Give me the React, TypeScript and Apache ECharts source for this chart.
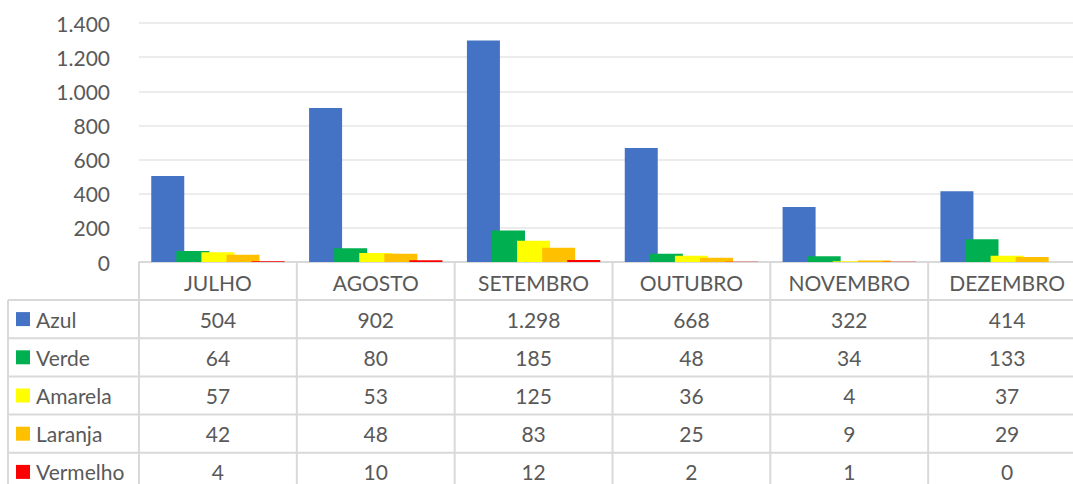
import React, { useEffect, useRef } from "react";
import * as echarts from "echarts";

const months = ["JULHO", "AGOSTO", "SETEMBRO", "OUTUBRO", "NOVEMBRO", "DEZEMBRO"];
const seriesNames = ["Azul", "Verde", "Amarela", "Laranja", "Vermelho"];
const seriesColors = ["#4472C4", "#00B050", "#FFFF00", "#FFC000", "#FF0000"];
const azul = [504, 902, 1298, 668, 322, 414];
const verde = [64, 80, 185, 48, 34, 133];
const amarela = [57, 53, 125, 36, 4, 37];
const laranja = [42, 48, 83, 25, 9, 29];
const vermelho = [4, 10, 12, 2, 1, 0];
const yMax = 1400;
const yInterval = 200;

const allValues = [azul, verde, amarela, laranja, vermelho];

const fmt = (n: number) => String(n).replace(/\B(?=(\d{3})+(?!\d))/g, ".");

const W = 1073;
const H = 484;
const gridLeft = 139;
const gridWidth = 947;
const innerW = gridLeft + gridWidth;
const gridTop = 23;
const axisY = 262;
const headerBottom = 300;
const rowH = 38.2;
const tableLeft = 8;
const FONT = "Lato, 'Open Sans', sans-serif";
const FS = 21;
const TXT = "#595959";
const LINE = "#d9d9d9";

export default function App() {
  const ref = useRef<HTMLDivElement>(null);
  useEffect(() => {
    if (!ref.current) return;
    const chart = echarts.init(ref.current, undefined, { renderer: "svg" });
    const catW = gridWidth / months.length;
    const graphics: any[] = [];
    for (let i = 0; i <= months.length; i++) {
      const x = gridLeft + i * catW;
      graphics.push({
        type: "line",
        shape: { x1: x, y1: axisY, x2: x, y2: H },
        style: { stroke: LINE, lineWidth: 2 },
        silent: true,
      });
    }
    graphics.push({
      type: "line",
      shape: { x1: tableLeft, y1: headerBottom, x2: tableLeft, y2: H },
      style: { stroke: LINE, lineWidth: 2 },
      silent: true,
    });
    for (let r = 0; r <= seriesNames.length; r++) {
      const y = headerBottom + r * rowH;
      graphics.push({
        type: "line",
        shape: { x1: tableLeft, y1: y, x2: innerW, y2: y },
        style: { stroke: LINE, lineWidth: 2 },
        silent: true,
      });
    }
    seriesNames.forEach((name, r) => {
      const cy = headerBottom + r * rowH + rowH / 2;
      graphics.push({
        type: "rect",
        shape: { x: 16, y: cy - 7, width: 14, height: 14 },
        style: { fill: seriesColors[r] },
        silent: true,
      });
      graphics.push({
        type: "text",
        x: 36,
        y: cy,
        style: {
          text: name,
          font: `${FS}px ${FONT}`,
          fill: TXT,
          textAlign: "left",
          textVerticalAlign: "middle",
          align: "left",
          verticalAlign: "middle",
        },
        silent: true,
      });
      allValues[r].forEach((v, c) => {
        graphics.push({
          type: "text",
          x: gridLeft + c * catW + catW / 2,
          y: cy,
          style: {
            text: fmt(v),
            font: `${FS}px ${FONT}`,
            fill: TXT,
            textAlign: "center",
            textVerticalAlign: "middle",
            align: "center",
            verticalAlign: "middle",
          },
          silent: true,
        });
      });
    });

    chart.setOption({
      animation: false,
      grid: { left: gridLeft, width: gridWidth, top: gridTop, height: axisY - gridTop },
      xAxis: {
        type: "category",
        data: months,
        axisLine: { show: true, lineStyle: { color: LINE, width: 2 } },
        axisTick: { show: false },
        axisLabel: {
          color: TXT,
          fontSize: FS,
          fontFamily: FONT,
          margin: 10,
          interval: 0,
          hideOverlap: false,
        },
      },
      yAxis: {
        type: "value",
        min: 0,
        max: yMax,
        interval: yInterval,
        axisLine: { show: false },
        axisTick: { show: false },
        axisLabel: {
          color: TXT,
          fontSize: FS,
          fontFamily: FONT,
          margin: 29,
          formatter: (v: number) => fmt(v),
        },
        splitLine: { lineStyle: { color: "#e6e6e6", width: 1.5 } },
      },
      series: seriesNames.map((name, i) => ({
        name,
        type: "bar",
        data: allValues[i],
        barWidth: 33,
        barGap: "-24%",
        itemStyle: { color: seriesColors[i] },
      })),
      graphic: graphics,
    });
    return () => chart.dispose();
  }, []);
  return (
    <div
      style={{
        position: "fixed",
        left: 0,
        top: 0,
        width: W,
        height: H,
        overflow: "hidden",
        background: "#fff",
      }}
    >
      <div ref={ref} style={{ width: innerW, height: H }} />
    </div>
  );
}
